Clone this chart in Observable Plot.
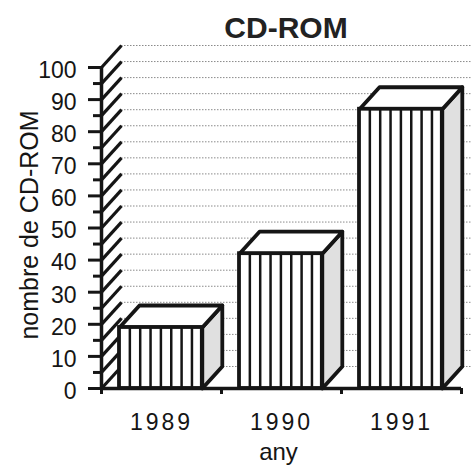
<!DOCTYPE html>
<html><head><meta charset="utf-8">
<script src="https://cdn.jsdelivr.net/npm/d3@7"></script>
<script src="https://cdn.jsdelivr.net/npm/@observablehq/plot@0.6"></script>
<style>
body{margin:0;background:#fff;font-family:"Liberation Sans",Arial,Helvetica,sans-serif;}
#wrap{width:472px;height:466px;position:relative;overflow:hidden;background:#fff;}
#title{height:40px;position:relative;}
#title span{position:absolute;left:286px;transform:translateX(-50%);top:13px;font-size:30px;font-weight:bold;line-height:30px;color:#222;white-space:nowrap;}
</style></head><body>
<div id="wrap"><div id="title"><span id="t"></span></div><div id="chart"></div></div>
<script>
// ---- data ----
const title = "CD-ROM";
const years = ["1989", "1990", "1991"];
const counts = [19, 42, 87];
const yMajor = [0, 10, 20, 30, 40, 50, 60, 70, 80, 90, 100];
const yMinor = [5, 15, 25, 35, 45, 55, 65, 75, 85, 95];
const gridLevels = [0, 5, 10, 15, 20, 25, 30, 35, 40, 45, 50, 55, 60, 65, 70, 75, 80, 85, 90, 95, 100];
const yTitle = "nombre de CD-ROM";
const xTitle = "any";

document.getElementById("t").textContent = title;

// 3D depth expressed in scale units (20px right, 22px up)
const PXX = 120, PXY = 3.21;
const DX = 20 / PXX, DY = 22 / PXY;
const FL = 0.15, FR = 0.84; // front face within band

const bars = years.map((yr, i) => ({id: i, year: yr, v: counts[i], x1: i + FL, x2: i + FR}));
const sidePts = bars.flatMap(b => [
  {id: b.id, x: b.x2, y: 0},
  {id: b.id, x: b.x2 + DX, y: DY},
  {id: b.id, x: b.x2 + DX, y: b.v + DY},
  {id: b.id, x: b.x2, y: b.v}
]);
const topPts = bars.flatMap(b => [
  {id: b.id, x: b.x1, y: b.v},
  {id: b.id, x: b.x2, y: b.v},
  {id: b.id, x: b.x2 + DX, y: b.v + DY},
  {id: b.id, x: b.x1 + DX, y: b.v + DY}
]);
const stripes = bars.flatMap(b => d3.range(1, 8).map(k => ({x: b.x1 + k * (b.x2 - b.x1) / 8, v: b.v})));

const ink = "#151515";
const font = "Liberation Sans, Arial, Helvetica, sans-serif";

const chart = Plot.plot({
  width: 472, height: 426,
  marginLeft: 101, marginRight: 11, marginTop: 27, marginBottom: 78,
  x: {domain: [0, 3], axis: null},
  y: {domain: [0, 100], axis: null},
  style: {fontFamily: font, overflow: "visible", background: "white", color: ink},
  marks: [
    // back wall gridlines
    Plot.ruleY(gridLevels, {y: d => d + DY, x1: DX, x2: 3 + DX, stroke: "#8a8a8a", strokeWidth: 1, strokeDasharray: "1.5,1.5"}),
    // left wall hatching
    Plot.link(gridLevels, {x1: 0, y1: d => d, x2: DX, y2: d => d + DY, stroke: ink, strokeWidth: 3.2}),
    // bars: side faces
    Plot.line(sidePts, {x: "x", y: "y", z: "id", curve: "linear-closed", fill: "#e0e0e0", stroke: ink, strokeWidth: 3.8, strokeLinejoin: "round"}),
    // bars: top faces
    Plot.line(topPts, {x: "x", y: "y", z: "id", curve: "linear-closed", fill: "white", stroke: ink, strokeWidth: 3.8, strokeLinejoin: "round"}),
    // bars: front faces
    Plot.rect(bars, {x1: "x1", x2: "x2", y1: 0, y2: "v", fill: "white"}),
    Plot.ruleX(stripes, {x: "x", y1: 0, y2: "v", stroke: ink, strokeWidth: 2.5}),
    Plot.rect(bars, {x1: "x1", x2: "x2", y1: 0, y2: "v", fill: "none", stroke: ink, strokeWidth: 3.8}),
    // y axis
    Plot.ruleX([0], {y1: 0, y2: 100, stroke: ink, strokeWidth: 3.5}),
    Plot.ruleY(yMajor, {y: d => d, x1: -13 / PXX, x2: 0, stroke: ink, strokeWidth: 3}),
    Plot.ruleY(yMinor, {y: d => d, x1: -8 / PXX, x2: 0, stroke: ink, strokeWidth: 3}),
    Plot.text(yMajor, {x: 0, y: d => d, text: d => String(d), textAnchor: "end", dx: -25, dy: 3, fontSize: 23, fill: ink}),
    // x axis
    Plot.ruleY([0], {x1: 0, x2: 3, stroke: ink, strokeWidth: 3.5}),
    Plot.ruleX([0, 1, 2, 3], {x: d => d, y1: 0, y2: -6 / PXY, stroke: ink, strokeWidth: 3}),
    Plot.text(years, {x: (d, i) => i + 0.5, y: 0, text: d => d, dy: 34, fontSize: 23, fill: ink}),
    // axis titles
    Plot.text([yTitle], {frameAnchor: "left", textAnchor: "middle", text: d => d, rotate: -90, dx: -72, dy: -3, fontSize: 25, fill: ink}),
    Plot.text([xTitle], {frameAnchor: "bottom", text: d => d, dx: -3, dy: 71, fontSize: 24, fill: ink})
  ]
});
d3.select(chart).selectAll("text").filter(function() { return years.includes(this.textContent); })
  .style("letter-spacing", "3px");
document.getElementById("chart").appendChild(chart);
</script>
</body></html>
